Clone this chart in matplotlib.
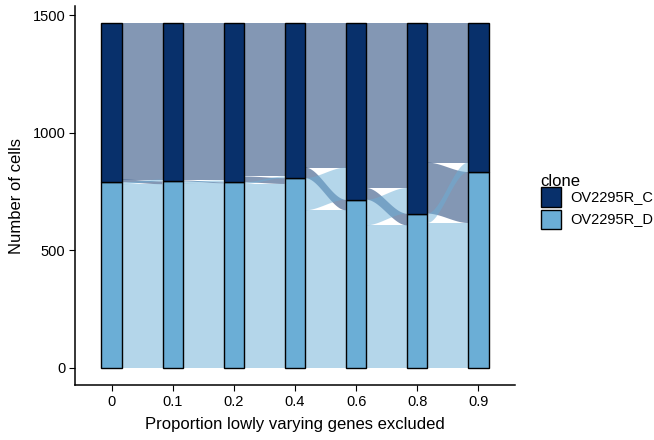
import numpy as np
import matplotlib
matplotlib.use("Agg")
import matplotlib.pyplot as plt
from matplotlib.patches import Rectangle, Polygon

plt.rcParams['font.family'] = ['Liberation Sans', 'DejaVu Sans']

# data
proportions = ["0", "0.1", "0.2", "0.4", "0.6", "0.8", "0.9"]
clones = ["OV2295R_C", "OV2295R_D"]
total_cells = 1466
n_clone_d = [789, 793, 789, 807, 715, 656, 833]
# cells switching clone between neighbouring steps
c_to_d = [12, 4, 25, 45, 50, 217]
d_to_c = [8, 8, 7, 137, 109, 40]

col_c = "#08306B"
col_d = "#6BAED6"
bar_w = 1 / 3

fig = plt.figure(figsize=(6.54, 4.4), dpi=100)
ax = fig.add_axes([75 / 654, 55 / 440, 440 / 654, 379 / 440])


def smooth(y0, y1, xs):
    t = (xs - xs[0]) / (xs[-1] - xs[0])
    s = t * t * (3 - 2 * t)
    return y0 + (y1 - y0) * s


def flow(x0, x1, left, right, color):
    xs = np.linspace(x0, x1, 60)
    top = smooth(left[1], right[1], xs)
    bot = smooth(left[0], right[0], xs)
    pts = np.concatenate([np.column_stack([xs, top]), np.column_stack([xs[::-1], bot[::-1]])])
    ax.add_patch(Polygon(pts, closed=True, facecolor=color, alpha=0.5, edgecolor="none", zorder=1))


for i in range(len(proportions) - 1):
    d0, d1 = n_clone_d[i], n_clone_d[i + 1]
    cd, dc = c_to_d[i], d_to_c[i]
    cc = total_cells - d0 - cd
    dd = d0 - dc
    x0, x1 = i + 1 + bar_w / 2, i + 2 - bar_w / 2
    # C -> C
    flow(x0, x1, (total_cells - cc, total_cells), (total_cells - cc, total_cells), col_c)
    # C -> D
    flow(x0, x1, (d0, d0 + cd), (d1 - cd, d1), col_c)
    # D -> C
    flow(x0, x1, (d0 - dc, d0), (d1, d1 + dc), col_d)
    # D -> D
    flow(x0, x1, (0, dd), (0, dd), col_d)

xpos = np.arange(1, len(proportions) + 1)
ax.bar(xpos, n_clone_d, width=bar_w, color=col_d, edgecolor="black", linewidth=1.0, zorder=3)
ax.bar(xpos, [total_cells - v for v in n_clone_d], bottom=n_clone_d, width=bar_w,
       color=col_c, edgecolor="black", linewidth=1.0, zorder=3)

ax.set_xlim(0.4, len(proportions) + 0.6)
ax.set_ylim(-total_cells * 0.05, total_cells * 1.05)
ax.set_xticks(xpos)
ax.set_xticklabels(proportions)
ax.set_yticks([0, 500, 1000, 1500])
ax.tick_params(labelsize=10.5, length=4, width=0.8, colors="black", pad=3)
for s in ["top", "right"]:
    ax.spines[s].set_visible(False)
for s in ["left", "bottom"]:
    ax.spines[s].set_linewidth(1.1)
ax.set_xlabel("Proportion lowly varying genes excluded", fontsize=12, labelpad=6)
ax.set_ylabel("Number of cells", fontsize=12, labelpad=6)

# legend
fig.text(540 / 654, 1 - 181 / 440, "clone", fontsize=12, va="center", ha="left")
for k, (lab, col) in enumerate(zip(clones, [col_c, col_d])):
    y_top = 187 + k * 22.5
    fig.add_artist(Rectangle((541 / 654, 1 - (y_top + 20) / 440), 20 / 654, 20 / 440,
                             transform=fig.transFigure, facecolor=col, edgecolor="black", linewidth=1.0))
    fig.text(570 / 654, 1 - (y_top + 10) / 440, lab, fontsize=10.5, va="center", ha="left")

fig.savefig("out.png", dpi=100)
